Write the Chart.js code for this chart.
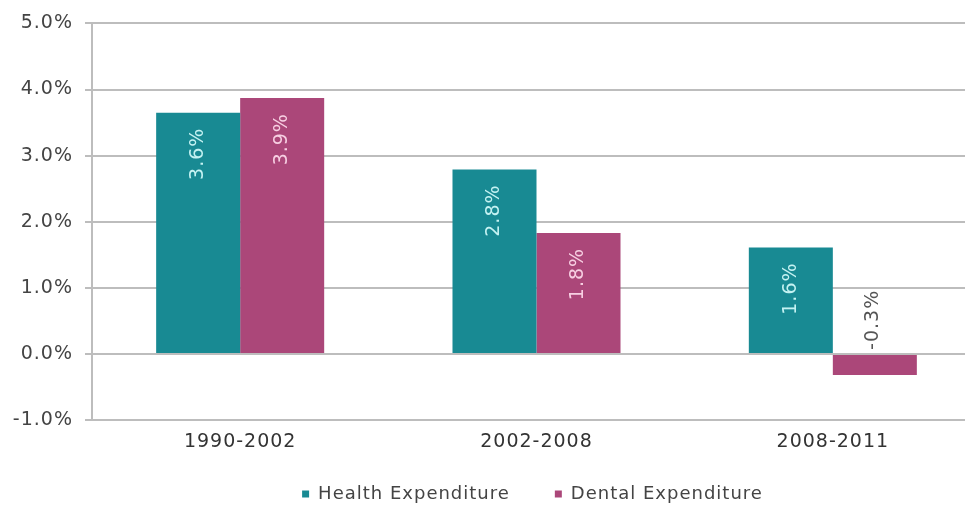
<!DOCTYPE html>
<html>
<head>
<meta charset="utf-8">
<script src="https://cdn.jsdelivr.net/npm/chart.js@4"></script>
<style>
  html, body { margin: 0; padding: 0; background: #fff; overflow: hidden; }
  #wrap { width: 965px; height: 506px; overflow: hidden; }
</style>
</head>
<body>
<div id="wrap"><canvas id="chart" width="981" height="506"></canvas></div>
<script>
const periods = ["1990-2002", "2002-2008", "2008-2011"];
const healthValues = [3.65, 2.79, 1.61];
const dentalValues = [3.87, 1.83, -0.32];
const healthLabels = ["3.6%", "2.8%", "1.6%"];
const dentalLabels = ["3.9%", "1.8%", "-0.3%"];

const font = "'DejaVu Sans', sans-serif";

// the original face is a wide one, so spread the letters a little
const spacing = {
  id: "spacing",
  beforeLayout(chart) { chart.ctx.letterSpacing = "1px"; },
  afterLayout(chart) {
    // x scale box is kept short; let its labels spill below it
    chart.scales.x.bottom += 24;
    // legend sits a bit right of centre in the original
    chart.legend.left += 42;
    chart.legend.right += 42;
  },
  beforeDraw(chart) { chart.ctx.letterSpacing = "1px"; }
};

/* rotated value labels, read from the bar elements */
const barText = {
  id: "barText",
  afterDatasetsDraw(chart) {
    const ctx = chart.ctx;
    const sets = [
      { labels: healthLabels, color: "#c4f2f2" },
      { labels: dentalLabels, color: "#f7cfe2" }
    ];
    sets.forEach((s, di) => {
      chart.getDatasetMeta(di).data.forEach((bar, i) => {
        const v = chart.data.datasets[di].data[i];
        ctx.save();
        ctx.font = "19px " + font;
        ctx.textBaseline = "middle";
        if (v >= 0) {
          ctx.translate(bar.x, bar.y + 15);
          ctx.rotate(-Math.PI / 2);
          ctx.textAlign = "right";
          ctx.fillStyle = s.color;
        } else {
          ctx.translate(bar.x - 2, bar.base - 5);
          ctx.rotate(-Math.PI / 2);
          ctx.textAlign = "left";
          ctx.fillStyle = "#555";
        }
        ctx.fillText(s.labels[i], 0, 0);
        ctx.restore();
      });
    });
  }
};

new Chart(document.getElementById("chart"), {
  type: "bar",
  data: {
    labels: periods,
    datasets: [
      { label: "Health Expenditure", data: healthValues, backgroundColor: "#188a93" },
      { label: "Dental Expenditure", data: dentalValues, backgroundColor: "#ab4779" }
    ]
  },
  options: {
    responsive: false,
    animation: false,
    layout: { padding: { top: 23, left: 0, right: 0, bottom: -7 } },
    datasets: { bar: { categoryPercentage: 0.567, barPercentage: 1.0 } },
    plugins: {
      legend: {
        position: "bottom",
        labels: {
          boxWidth: 7, boxHeight: 7, padding: 45,
          color: "#444", font: { family: font, size: 18 }
        }
      },
      tooltip: { enabled: false }
    },
    scales: {
      x: {
        grid: { display: false, drawTicks: false },
        border: { display: false },
        ticks: { color: "#333", font: { family: font, size: 19 }, padding: 11 },
        afterFit: s => { s.height = 20; }
      },
      y: {
        min: -1, max: 5,
        ticks: {
          stepSize: 1, color: "#444", padding: 12,
          font: { family: font, size: 19 },
          callback: v => v.toFixed(1) + "%"
        },
        grid: { color: "#bdbdbd", lineWidth: 2, tickLength: 7 },
        border: { color: "#bdbdbd", width: 2 },
        afterFit: s => { s.width = 92; }
      }
    }
  },
  plugins: [spacing, barText]
});
</script>
</body>
</html>
